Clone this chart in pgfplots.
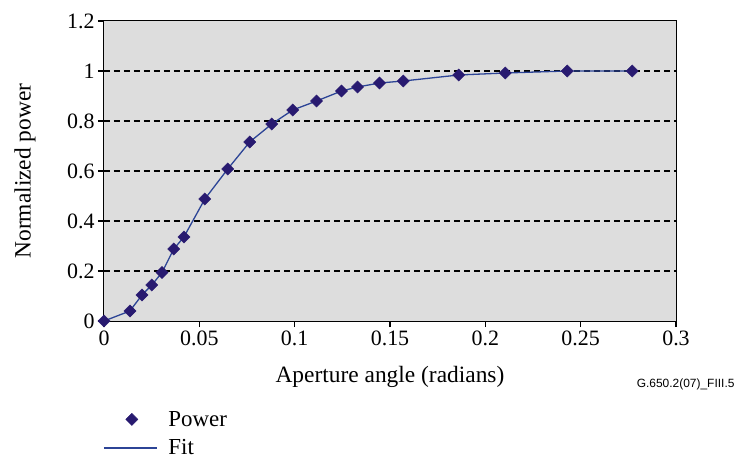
\documentclass[border=0pt]{standalone}
\usepackage{fontspec}
\setmainfont{Liberation Serif}
\newfontfamily\arialfont{Liberation Sans}
\usepackage{pgfplots}
\pgfplotsset{compat=1.18}
\definecolor{marknavy}{RGB}{40,26,112}
\definecolor{fitblue}{RGB}{44,68,150}
\definecolor{bggray}{RGB}{221,221,221}
\pgfplotsset{
  ptlegend/.style={legend image code/.code={\draw[##1] plot coordinates {(28bp,0bp)};}},
  lnlegend/.style={legend image code/.code={\draw[##1] (0bp,0bp) -- (53bp,0bp);}},
}
\begin{document}
\begin{tikzpicture}
\useasboundingbox (-104bp,-138bp) rectangle (638bp,321bp);
\begin{axis}[
  at={(0,0)}, anchor=south west,
  scale only axis, width=572bp, height=300bp,
  xmin=0, xmax=0.3, ymin=0, ymax=1.2,
  xtick={0,0.05,0.1,0.15,0.2,0.25,0.3},
  ytick={0,0.2,0.4,0.6,0.8,1,1.2},
  xticklabels={0,0.05,0.1,0.15,0.2,0.25,0.3},
  yticklabels={0,0.2,0.4,0.6,0.8,1,1.2},
  axis background/.style={fill=bggray},
  axis line style={black, line width=1bp},
  xtick pos=bottom, ytick pos=left,
  xtick align=outside, ytick align=outside,
  major tick length=6bp,
  every tick/.style={draw=black, line width=1.2bp},
  font=\fontsize{23.5}{28}\selectfont,
  tick label style={font=\fontsize{22}{26}\selectfont},
  /pgf/number format/assume math mode=true,
  xlabel={Aperture angle (radians)},
  ylabel={Normalized power},
  xlabel style={at={(axis description cs:0.5,0)}, anchor=center, yshift=-56bp},
  ylabel style={at={(axis description cs:0,0.5)}, anchor=center, yshift=79bp},
  clip=false,
  legend style={draw=none, fill=none, at={(axis description cs:0,0)}, anchor=north west,
    xshift=-1bp, yshift=-88bp, font=\fontsize{23}{27}\selectfont,
    row sep=8bp, column sep=9bp, inner sep=0pt, nodes={inner sep=2bp}},
  legend cell align=left,
]
\draw[black, line width=1.2bp, dash pattern=on 6bp off 4bp] (axis cs:0,0.2) -- (axis cs:0.3,0.2);
\draw[black, line width=1.2bp, dash pattern=on 6bp off 4bp] (axis cs:0,0.4) -- (axis cs:0.3,0.4);
\draw[black, line width=1.2bp, dash pattern=on 6bp off 4bp] (axis cs:0,0.6) -- (axis cs:0.3,0.6);
\draw[black, line width=1.2bp, dash pattern=on 6bp off 4bp] (axis cs:0,0.8) -- (axis cs:0.3,0.8);
\draw[black, line width=1.2bp, dash pattern=on 6bp off 4bp] (axis cs:0,1.0) -- (axis cs:0.3,1.0);
\addplot[only marks, mark=square*, mark size=4.3bp, mark options={rotate=45, fill=marknavy, draw=marknavy}, ptlegend]
coordinates {
(0,0) (0.0136,0.04) (0.0199,0.104) (0.0251,0.144) (0.0304,0.194) (0.0366,0.288)
(0.0419,0.336) (0.0529,0.488) (0.0649,0.608) (0.0764,0.716) (0.088,0.788)
(0.099,0.844) (0.1115,0.88) (0.1246,0.92) (0.133,0.936) (0.1445,0.952)
(0.157,0.96) (0.186,0.984) (0.2105,0.992) (0.243,1.0) (0.277,1.0)
};
\addlegendentry{Power}
\addplot[fitblue, line width=1.3bp, mark=none, lnlegend]
coordinates {
(0,0) (0.0136,0.04) (0.0199,0.104) (0.0251,0.144) (0.0304,0.194) (0.0366,0.288)
(0.0419,0.336) (0.0529,0.488) (0.0649,0.608) (0.0764,0.716) (0.088,0.788)
(0.099,0.844) (0.1115,0.88) (0.1246,0.92) (0.133,0.936) (0.1445,0.952)
(0.157,0.96) (0.186,0.984) (0.2105,0.992) (0.243,1.0) (0.277,1.0)
};
\addlegendentry{Fit}
\end{axis}
\node[anchor=east, font=\arialfont\fontsize{12}{14}\selectfont] at (634bp,-63bp) {G.650.2(07)\_FIII.5};
\end{tikzpicture}
\end{document}
